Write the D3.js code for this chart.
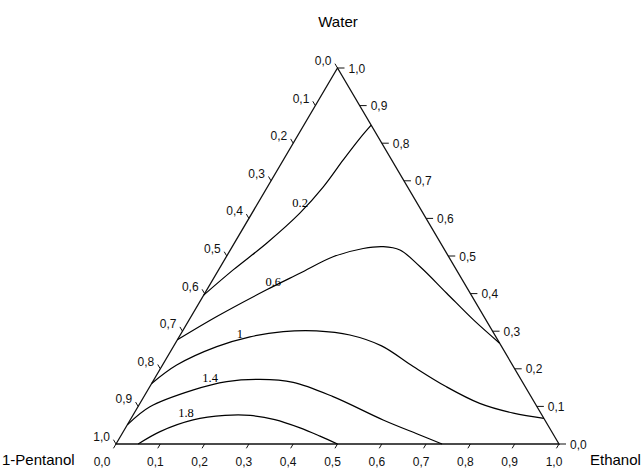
<!DOCTYPE html>
<html><head><meta charset="utf-8">
<script src="https://cdn.jsdelivr.net/npm/d3@7"></script>
<style>body{margin:0;background:#fff}</style>
</head><body><svg id="c" width="643" height="469"></svg>
<script>
// Axis titles
const axisTitles = ["Water", "1-Pentanol", "Ethanol"];
// Tick values and labels (same on all three axes)
const tickValues = [0, 0.1, 0.2, 0.3, 0.4, 0.5, 0.6, 0.7, 0.8, 0.9, 1.0];
const tickLabels = ["0,0","0,1","0,2","0,3","0,4","0,5","0,6","0,7","0,8","0,9","1,0"];
// Contour levels
const levels = ["0.2", "0.6", "1", "1.4", "1.8"];
// Contour points as [ethanol, water] fractions (pentanol = 1 - ethanol - water)
const c02 = [[0,0.396],[0.033,0.463],[0.073,0.534],[0.108,0.614],[0.126,0.684],[0.135,0.755],[0.144,0.813],[0.152,0.848]];
const c06 = [[0,0.277],[0.058,0.339],[0.135,0.410],[0.188,0.454],[0.241,0.498],[0.298,0.520],[0.341,0.525],[0.383,0.516],[0.450,0.472],[0.546,0.401],[0.642,0.330],[0.732,0.268]];
const c10 = [[0,0.161],[0.032,0.210],[0.098,0.259],[0.160,0.285],[0.228,0.299],[0.302,0.301],[0.383,0.290],[0.469,0.261],[0.568,0.206],[0.670,0.152],[0.767,0.108],[0.856,0.082],[0.932,0.068]];
const c14 = [[0,0.051],[0.027,0.099],[0.103,0.144],[0.167,0.166],[0.239,0.172],[0.318,0.164],[0.427,0.126],[0.571,0.064],[0.674,0.024],[0.736,0]];
const c18 = [[0.050,0],[0.083,0.033],[0.142,0.064],[0.208,0.076],[0.265,0.076],[0.326,0.065],[0.394,0.043],[0.450,0.021],[0.500,0]];
// Contour label positions [ethanol, water]
const labelPos = [[0.095,0.641],[0.139,0.432],[0.133,0.293],[0.125,0.175],[0.117,0.082]];

const svg = d3.select("#c");
const xScale = d3.scaleLinear().domain([0,1]).range([116,559]);
const yScale = d3.scaleLinear().domain([0,1]).range([444,68]);
const P = (e, w) => [xScale(e + w/2), yScale(w)];

const sans = "'Liberation Sans', Arial, sans-serif";
const serif = "'Liberation Serif', 'Times New Roman', serif";

// triangle
const BL = P(0,0), BR = P(1,0), T = P(0,1);
svg.append("path")
  .attr("d", `M${BL}L${BR}L${T}Z`)
  .attr("fill","none").attr("stroke","#111").attr("stroke-width",1.3)
  .attr("stroke-linejoin","miter");

function unit(a,b){const dx=b[0]-a[0],dy=b[1]-a[1],l=Math.hypot(dx,dy);return [dx/l,dy/l];}
const dLeftOut = unit(T, BL);     // down-left, for bottom ticks
const dRightOut = unit(BR, T);    // up-left, for left ticks
const tickG = svg.append("g").attr("stroke","#111").attr("stroke-width",1);
const labG = svg.append("g").attr("font-family",sans).attr("font-size",12).attr("fill","#111");

tickValues.forEach((v,i)=>{
  // bottom axis: ethanol
  const b = P(v,0);
  tickG.append("line").attr("x1",b[0]).attr("y1",b[1])
    .attr("x2",b[0]+dLeftOut[0]*5).attr("y2",b[1]+dLeftOut[1]*5);
  labG.append("text").attr("x",b[0]-5-(i===0?9:0)).attr("y",b[1]+22)
    .attr("text-anchor","middle").text(tickLabels[i]);
  // right axis: water
  const r = P(1-v, v);
  tickG.append("line").attr("x1",r[0]).attr("y1",r[1]).attr("x2",r[0]+7).attr("y2",r[1]);
  labG.append("text").attr("x",r[0]+11).attr("y",r[1]+4.5)
    .attr("text-anchor","start").text(tickLabels[i]);
  // left axis: pentanol
  const l = P(0, 1-v);
  tickG.append("line").attr("x1",l[0]).attr("y1",l[1])
    .attr("x2",l[0]+dRightOut[0]*5).attr("y2",l[1]+dRightOut[1]*5);
  labG.append("text").attr("x",l[0]-6).attr("y",l[1]-3)
    .attr("text-anchor","end").text(tickLabels[i]);
});

// contours
const line = d3.line().x(d=>P(d[0],d[1])[0]).y(d=>P(d[0],d[1])[1])
  .curve(d3.curveCatmullRom.alpha(0.5));
[c02,c06,c10,c14,c18].forEach(c=>{
  svg.append("path").attr("d",line(c)).attr("fill","none")
    .attr("stroke","#000").attr("stroke-width",1.2);
});
levels.forEach((t,i)=>{
  const p = P(labelPos[i][0], labelPos[i][1]);
  svg.append("text").attr("x",p[0]).attr("y",p[1]+4)
    .attr("text-anchor","middle").attr("font-family",serif).attr("font-size",12.5)
    .attr("fill","#000").text(t);
});

// axis titles
svg.append("text").attr("x",338).attr("y",27).attr("text-anchor","middle")
  .attr("font-family",sans).attr("font-size",15).attr("fill","#000").text(axisTitles[0]);
svg.append("text").attr("x",2).attr("y",465).attr("text-anchor","start")
  .attr("font-family",sans).attr("font-size",15).attr("fill","#000").text(axisTitles[1]);
svg.append("text").attr("x",590).attr("y",465).attr("text-anchor","start")
  .attr("font-family",sans).attr("font-size",15).attr("fill","#000").text(axisTitles[2]);
</script>
</body></html>
